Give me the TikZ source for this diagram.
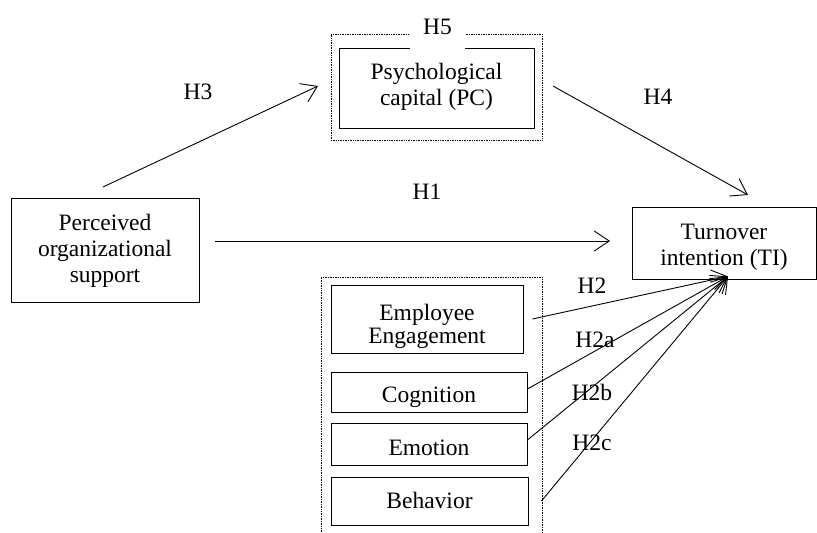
\documentclass[tikz,border=0pt]{standalone}
\usepackage{fontspec}
\setmainfont{Liberation Serif}
\usetikzlibrary{arrows.meta}
\begin{document}
\begin{tikzpicture}[x=1pt,y=-1pt,
  font=\fontsize{23.5}{26}\selectfont,
  box/.style={draw, line width=0.8pt, align=center, inner sep=0pt},
  grp/.style={draw, densely dotted, line width=0.7pt, inner sep=0pt},
  txt/.style={inner sep=0pt, align=center, anchor=base},
  lbl/.style={inner sep=1pt},
  arr/.style={line width=0.9pt, -{Straight Barb[length=15pt,width=20pt,line width=0.9pt]}}]
\useasboundingbox (0,0) rectangle (817,533);
% boxes
\node[box, minimum width=188pt, minimum height=104pt] (POS) at (105,250) {};
\node[txt] (POSt) at (105,282) {Perceived\\organizational\\support};
\node[grp, minimum width=211pt, minimum height=106pt] (PCg) at (436.5,87) {};
\node[box, minimum width=195pt, minimum height=80pt] (PC) at (436.5,88) {};
\node[txt] (PCt) at (436.5,105) {Psychological\\capital (PC)};
\node[fill=white, anchor=base, inner sep=2pt, text height=14pt, text depth=15pt, minimum width=55pt] (H5) at (437.5,34) {H5};
\node[box, minimum width=184pt, minimum height=72pt] (TI) at (724,243) {};
\node[txt] (TIt) at (724,265) {Turnover\\intention (TI)};
\node[grp, minimum width=221pt, minimum height=266pt] (EEg) at (431.5,410) {};
\node[box, minimum width=192pt, minimum height=68pt] (EE) at (427,319) {};
\node[txt, font=\fontsize{23.5}{23}\selectfont] (EEt) at (427,343) {Employee\\Engagement};
\node[box, minimum width=196pt, minimum height=40pt] (COG) at (429,392) {};
\node[txt] (COGt) at (429,402) {Cognition};
\node[box, minimum width=196pt, minimum height=42pt] (EMO) at (429,444) {};
\node[txt] (EMOt) at (429,455) {Emotion};
\node[box, minimum width=197pt, minimum height=48pt] (BEH) at (429.5,501) {};
\node[txt] (BEHt) at (429.5,508) {Behavior};
% connector end points
\coordinate (tip) at ([xshift=4pt,yshift=3pt]TI.south);
\coordinate (h3s) at (103,187);
\coordinate (h3e) at (318,86);
\coordinate (h4s) at (553,86);
\coordinate (h4e) at (748,195);
\coordinate (h1s) at (215,241);
\coordinate (h1e) at (610,241);
% arrows
\draw[arr] (h3s) -- (h3e);
\draw[arr] (h4s) -- (h4e);
\draw[arr] (h1s) -- (h1e);
\draw[arr] ([xshift=9pt]EE.east) -- (tip);
\draw[arr] ([yshift=3pt]COG.east) -- (tip);
\draw[arr] ([yshift=4pt]EMO.east) -- (tip);
\draw[arr] ([xshift=13pt]BEH.east) -- (tip);
% labels
\node[lbl] (L3) at (198,92) {H3};
\node[lbl] (L4) at (658,97) {H4};
\node[lbl] (L1) at (427,192) {H1};
\node[lbl] (L2) at (592,286) {H2};
\node[lbl] (L2a) at (595,340) {H2a};
\node[lbl] (L2b) at (592,392) {H2b};
\node[lbl] (L2c) at (592,443) {H2c};
\end{tikzpicture}
\end{document}
